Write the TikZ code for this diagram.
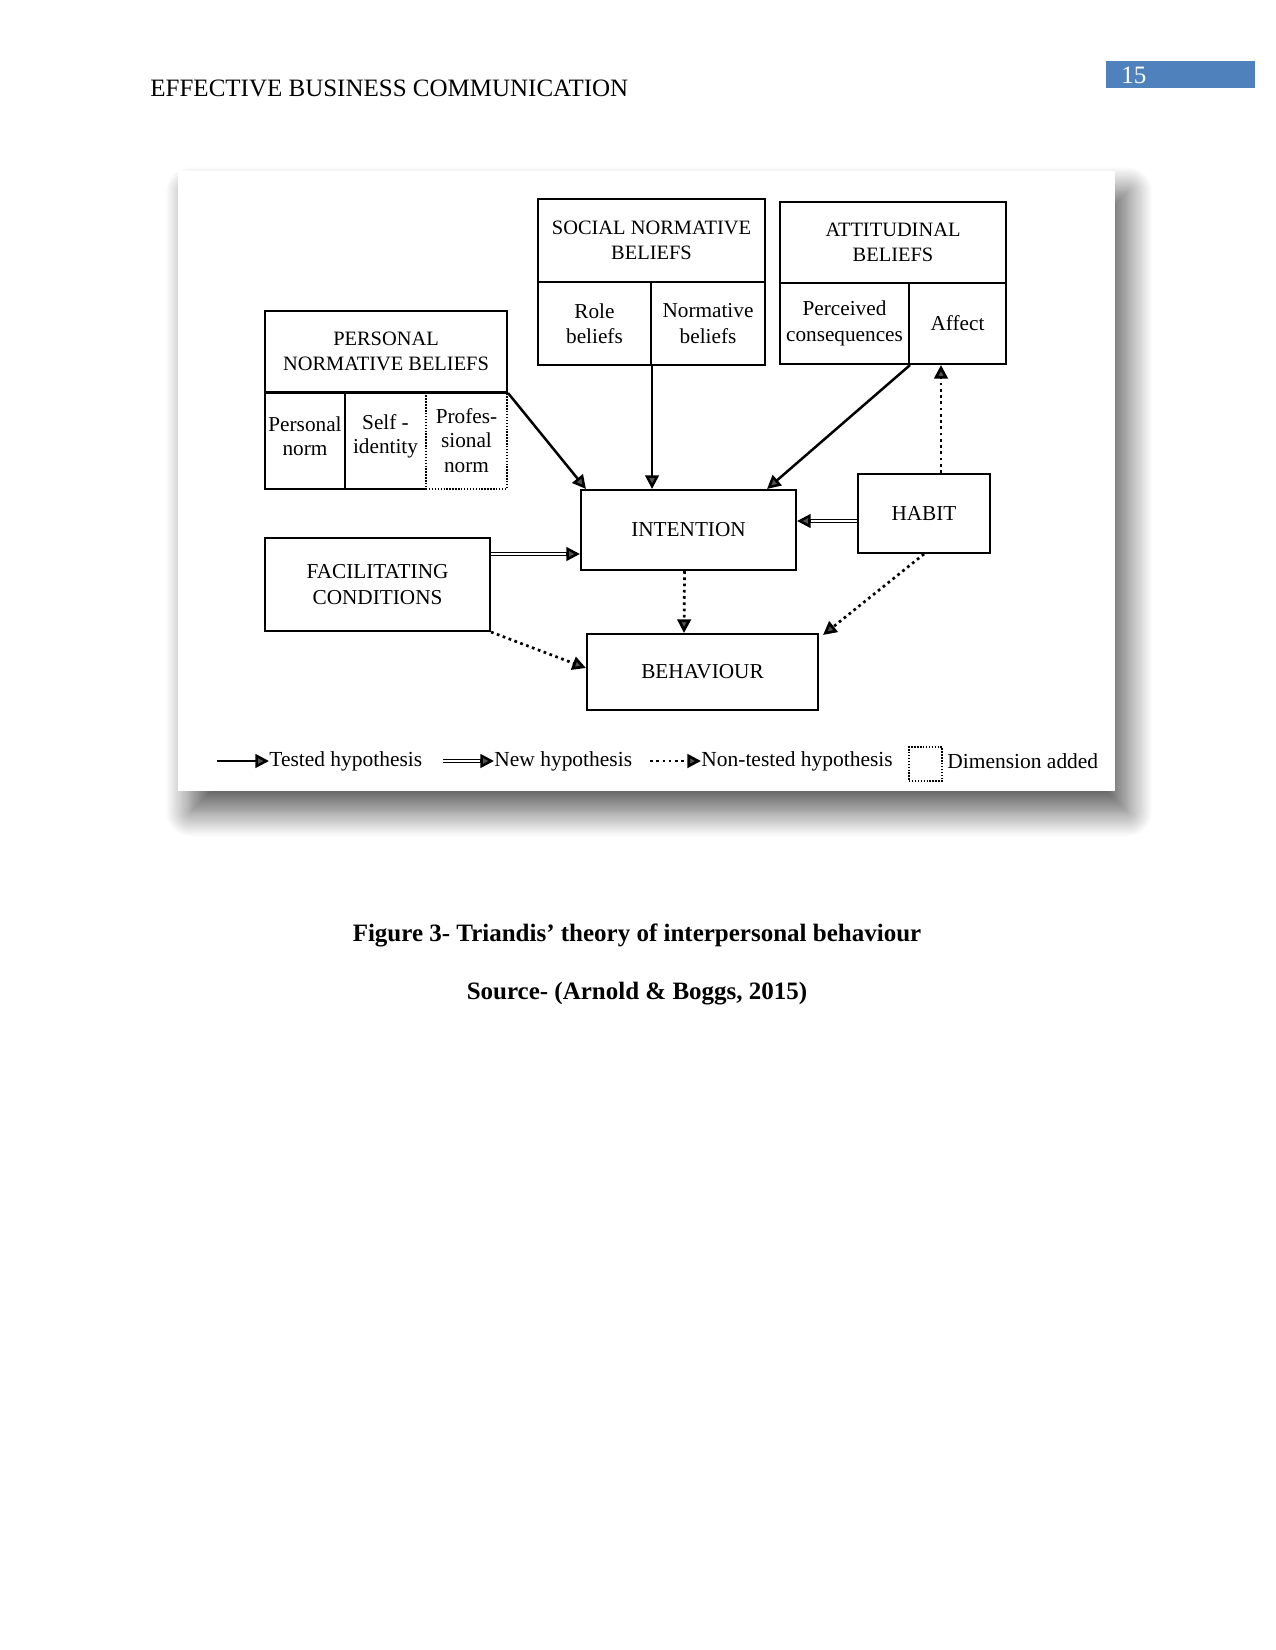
\documentclass[tikz,border=0pt]{standalone}
\usepackage{fontspec}
\setmainfont{Liberation Serif}
\usetikzlibrary{arrows.meta,calc,shadows.blur}
\definecolor{hdrblue}{HTML}{4F81BD}
\begin{document}
\begin{tikzpicture}[x=0.48pt,y=-0.48pt,
  sz/.style 2 args={minimum width=#1*0.48pt, minimum height=#2*0.48pt},
  box/.style={draw, line width=1pt, align=center, inner sep=1pt, font=\fontsize{10.2}{12.2}\selectfont},
  headbox/.style={box, font=\fontsize{9.8}{11.8}\selectfont},
  cell/.style={align=center, inner sep=1pt, font=\fontsize{10.2}{11.8}\selectfont},
  dimbox/.style={draw, line width=0.6pt, dash pattern=on 0.7pt off 0.7pt},
  tested/.style={line width=1.2pt, -{Triangle[length=6.5pt,width=6.5pt]}},
  nontested/.style={line width=1.3pt, dash pattern=on 1.3pt off 1.7pt, -{Triangle[length=6.5pt,width=6.5pt]}},
  dbl/.style={double, double distance=1.1pt, line width=0.6pt},
  dbltip/.style={line width=1.2pt, -{Triangle[length=6.5pt,width=6.5pt]}},
  legtext/.style={anchor=west, inner sep=0pt, font=\fontsize{10.3}{12}\selectfont}
]
\useasboundingbox (0,0) rectangle (1275,1650);

% page header
\node[anchor=base west, inner sep=0pt, font=\fontsize{12}{14}\selectfont] (hdr) at (150,97) {EFFECTIVE BUSINESS COMMUNICATION};
\node[fill=hdrblue, sz={149}{27}, inner sep=0pt] (pnum) at (1180.5,74.5) {};
\node[anchor=base west, inner sep=0pt, text=white, font=\fontsize{12}{14}\selectfont] (pnumtxt) at (1121,84) {15};

% panel with shadow
\fill[white, blur shadow={shadow xshift=6pt, shadow yshift=-10pt, shadow blur radius=12pt, shadow opacity=65, shadow blur steps=24}] (178,171) rectangle (1115,791);

% PERSONAL NORMATIVE BELIEFS
\node[headbox, sz={242}{81}] (pnb) at (386,351.5) {PERSONAL\\NORMATIVE BELIEFS};
\node[box, sz={80}{97}] (pnorm) at (305,440.5) {};
\node[cell] at (pnorm) [yshift=2pt] {Personal\\norm};
\node[cell, sz={81}{97}] (selfid) at (385.5,440.5) {};
\node[cell] at (selfid) [yshift=2pt] {Self -\\identity};
\draw[line width=1pt] (selfid.south west) -- (selfid.south east);
\node[dimbox, cell, sz={81}{97}] (prof) at (466.5,440.5) {Profes-\\sional\\norm};
\draw[line width=1pt] (pnb.south west) -- (pnb.south east);

% SOCIAL NORMATIVE BELIEFS
\node[headbox, sz={227}{83}] (snb) at (651.5,240.5) {SOCIAL NORMATIVE\\BELIEFS};
\node[box, sz={113}{83}] (role) at (594.5,323.5) {Role\\beliefs};
\node[box, sz={114}{83}] (normb) at (708,323.5) {Normative\\beliefs};

% ATTITUDINAL BELIEFS
\node[headbox, sz={226}{81}] (att) at (893,242.5) {ATTITUDINAL\\BELIEFS};
\node[box, sz={129}{81}] (perc) at (844.5,323.5) {Perceived\\consequences};
\node[box, sz={97}{81}] (aff) at (957.5,323.5) {Affect};

% main boxes
\node[box, sz={215}{80}] (int) at (688.5,530) {INTENTION};
\node[box, sz={132}{79}] (hab) at (924,513.5) {HABIT};
\node[box, sz={225}{93}] (fac) at (377.5,584.5) {FACILITATING\\CONDITIONS};
\node[box, sz={231}{76}] (beh) at (702.5,672) {BEHAVIOUR};

% tested hypotheses
\draw[tested] (pnb.south east) -- ($(int.north west)+(6,0)$);
\draw[tested] (role.south east) -- (role.south east |- int.north);
\draw[tested] (perc.south east) -- ($(int.north east)+(-30,0)$);

% new hypotheses
\coordinate (f1) at ($(fac.east)+(0,-30.5)$);
\coordinate (f2) at (f1 -| int.west);
\draw[dbl] (f1) -- ($(f2)+(-10,0)$);
\draw[dbltip] ($(f2)+(-14,0)$) -- (f2);
\coordinate (h1) at ($(hab.west)+(0,7.5)$);
\coordinate (h2) at (h1 -| int.east);
\draw[dbl] (h1) -- ($(h2)+(10,0)$);
\draw[dbltip] ($(h2)+(14,0)$) -- (h2);

% non-tested hypotheses
\coordinate (hu) at ($(hab.north)+(17,0)$);
\draw[nontested] (hu) -- (hu |- aff.south);
\draw[nontested] ($(int.south)+(-4,0)$) -- ($(beh.north)+(-18.5,0)$);
\draw[nontested] (hab.south) -- ($(beh.north east)+(4,2)$);
\draw[nontested] (fac.south east) -- ($(beh.west)+(0,-4)$);

% legend
\node[legtext] (lg1) at (269,761) {Tested hypothesis};
\coordinate (lg1s) at (217,761);
\draw[tested] (lg1s) -- (lg1.west);
\node[legtext] (lg2) at (494,761) {New hypothesis};
\coordinate (lg2s) at (443,761);
\draw[dbl] (lg2s) -- ($(lg2.west)+(-10,0)$);
\draw[dbltip] ($(lg2.west)+(-14,0)$) -- (lg2.west);
\node[legtext] (lg3) at (701,761) {Non-tested hypothesis};
\coordinate (lg3s) at (650,761);
\draw[nontested] (lg3s) -- (lg3.west);
\node[dimbox, sz={33}{34}, inner sep=0pt] (lg4b) at (925.5,764) {};
\node[legtext] (lg4) at (947,761) {Dimension added};

% caption
\node[anchor=base, inner sep=0pt, font=\bfseries\fontsize{12}{14}\selectfont] (cap) at (637,941) {Figure 3- Triandis’ theory of interpersonal behaviour};
\node[anchor=base, inner sep=0pt, font=\bfseries\fontsize{12}{14}\selectfont] (src) at (637,999) {Source- (Arnold \& Boggs, 2015)};
\end{tikzpicture}
\end{document}
